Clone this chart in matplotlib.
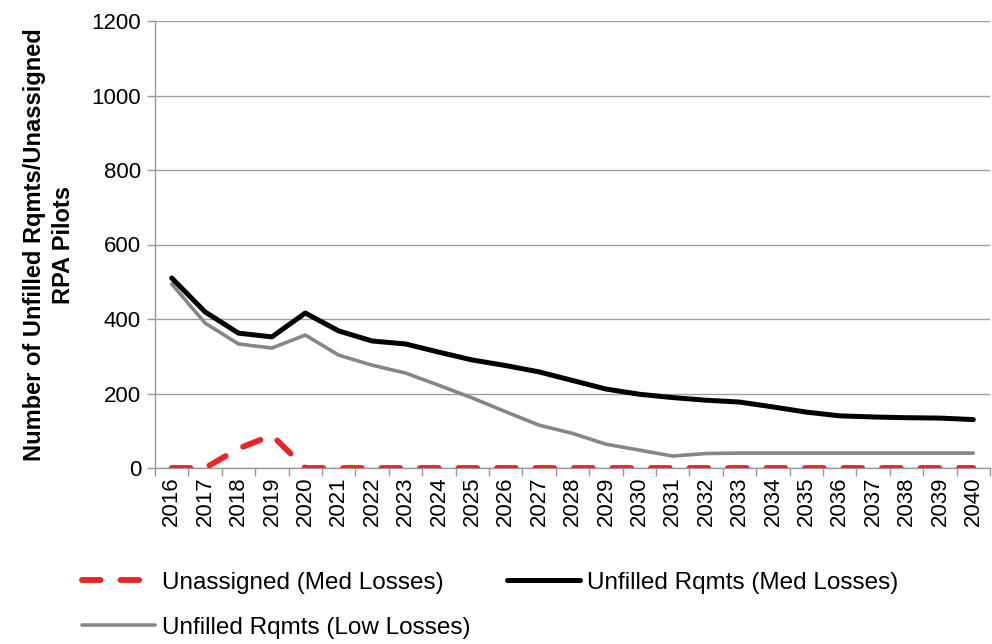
import numpy as np
import matplotlib.pyplot as plt

# years on the x axis
years = [str(y) for y in range(2016, 2041)]

# Unassigned (Med Losses)
unassigned_med = [0, 0, 52, 88, 0, 0, 0, 0, 0, 0, 0, 0, 0, 0, 0, 0, 0, 0, 0, 0, 0, 0, 0, 0, 0]
# Unfilled Rqmts (Med Losses)
unfilled_med = [510, 419, 362, 352, 416, 368, 341, 333, 311, 290, 275, 258, 235, 212, 198, 189,
                182, 177, 164, 150, 140, 137, 135, 134, 130]
# Unfilled Rqmts (Low Losses)
unfilled_low = [494, 389, 333, 322, 357, 303, 276, 255, 222, 188, 151, 115, 93, 64, 48, 32,
                39, 40, 40, 40, 40, 40, 40, 40, 40]

plt.rcParams['font.family'] = ['Liberation Sans', 'DejaVu Sans']

fig = plt.figure(figsize=(9.92, 6.44), dpi=100)
ax = fig.add_axes([155/992, 1-468/644, 835/992, (468-21)/644])

x = np.arange(len(years))
l1, = ax.plot(x, unassigned_med, color='#ee2424', lw=4.2, dashes=(3.2, 3.4),
              dash_capstyle='round', label='Unassigned (Med Losses)', zorder=3)
l2, = ax.plot(x, unfilled_med, color='black', lw=3.6, solid_capstyle='round',
              label='Unfilled Rqmts (Med Losses)', zorder=4)
l3, = ax.plot(x, unfilled_low, color='#868686', lw=2.6, solid_capstyle='round',
              label='Unfilled Rqmts (Low Losses)', zorder=3)

ax.set_xlim(-0.5, len(years) - 0.5)
ax.set_ylim(0, 1200)
ax.set_yticks(range(0, 1201, 200))
ax.set_xticks(x)
ax.set_xticklabels(years, rotation=90, fontsize=16)
ax.set_xticks(np.arange(-0.5, len(years), 1), minor=True)
ax.tick_params(axis='x', which='major', length=0, pad=6)
ax.tick_params(axis='x', which='minor', length=6, color='#999999', width=1)
ax.tick_params(axis='y', length=6, color='#999999', width=1, labelsize=16, pad=4)

ax.grid(axis='y', color='#a0a0a0', lw=1)
ax.set_axisbelow(True)
for s in ['top', 'right']:
    ax.spines[s].set_visible(False)
for s in ['left', 'bottom']:
    ax.spines[s].set_color('#999999')
    ax.spines[s].set_linewidth(1)

ax.set_ylabel('Number of Unfilled Rqmts/Unassigned\nRPA Pilots', fontsize=17,
              fontweight='bold', labelpad=12, linespacing=1.3)

fig.legend([l1, l3, l2], [l1.get_label(), l3.get_label(), l2.get_label()],
           loc='upper left', bbox_to_anchor=(60/992, 1-550/644), ncol=2, frameon=False,
           fontsize=17.5, handlelength=3.0, handletextpad=0.3, columnspacing=1.5,
           labelspacing=0.95)

fig.savefig('out.png', dpi=100)
